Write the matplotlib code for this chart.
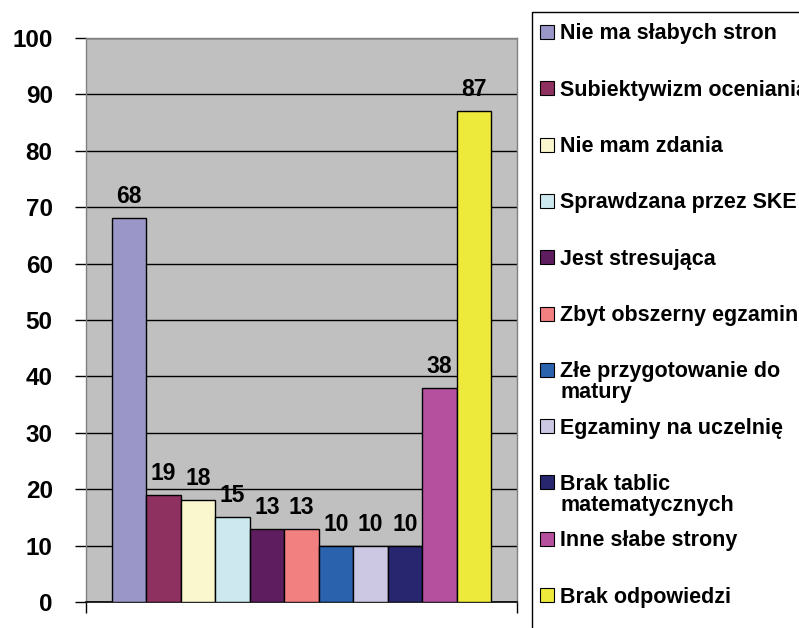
import matplotlib
matplotlib.use('Agg')
from matplotlib import pyplot as plt
from matplotlib.patches import Rectangle

labels = ['Nie ma słabych stron', 'Subiektywizm oceniania', 'Nie mam zdania',
          'Sprawdzana przez SKE', 'Jest stresująca', 'Zbyt obszerny egzamin',
          'Złe przygotowanie do\nmatury', 'Egzaminy na uczelnię',
          'Brak tablic\nmatematycznych', 'Inne słabe strony', 'Brak odpowiedzi']
values = [68, 19, 18, 15, 13, 13, 10, 10, 10, 38, 87]
colors = ['#9A96C8', '#8E3060', '#FAF6CE', '#CDE8EE', '#5E1D5E', '#F28080',
          '#2A62AE', '#CCC8E4', '#28266E', '#B5509E', '#EEEA3C']
yticks = [0, 10, 20, 30, 40, 50, 60, 70, 80, 90, 100]

plt.rcParams['font.family'] = ['Liberation Sans', 'DejaVu Sans']
plt.rcParams['font.weight'] = 'bold'

W, H = 799, 628
fig = plt.figure(figsize=(W/100, H/100), dpi=100)
ax = fig.add_axes([86/W, 1-602/H, (517-86)/W, (602-38)/H])
ax.set_facecolor('#C0C0C0')

x = list(range(len(values)))
bars = ax.bar(x, values, width=1.0, color=colors, edgecolor='black', linewidth=1, zorder=3)

for xi, v in zip(x, values):
    ax.annotate(str(v), (xi, v), xytext=(0, 10.8), textcoords='offset points',
                ha='center', va='baseline', fontsize=16.5, fontweight='bold')

ax.set_ylim(0, 100)
ax.set_xlim(-1.25, 11.25)
ax.set_yticks(yticks)
ax.yaxis.grid(True, color='black', linewidth=1)
ax.set_axisbelow(True)
ax.tick_params(axis='y', length=8, width=1, pad=16, labelsize=17.5)
ax.set_xticks([-1.25, 11.25])
ax.set_xticklabels(['', ''])
ax.tick_params(axis='x', length=8, width=1, direction='out')

for s in ['top', 'right', 'left']:
    ax.spines[s].set_color('#808080')
    ax.spines[s].set_linewidth(1)
ax.spines['bottom'].set_color('black')
ax.spines['bottom'].set_linewidth(1.2)

# legend box, cut by the figure edge like in the original
fig.patches.append(Rectangle((532/W, -0.1), 1, 1.1 - 12/H, transform=fig.transFigure,
                             fill=False, edgecolor='black', linewidth=1))
step = 56.3
line_h = 21
for i, (lab, c) in enumerate(zip(labels, colors)):
    yc = 32 + i*step
    fig.patches.append(Rectangle((540/W, 1-(yc+7)/H), 14/W, 14/H, transform=fig.transFigure,
                                 facecolor=c, edgecolor='black', linewidth=0.8))
    for j, line in enumerate(lab.split('\n')):
        fig.text(560/W, 1-(yc+7.5+j*line_h)/H, line, ha='left', va='baseline',
                 fontsize=15.5, fontweight='bold')

fig.savefig('out.png', dpi=100)
